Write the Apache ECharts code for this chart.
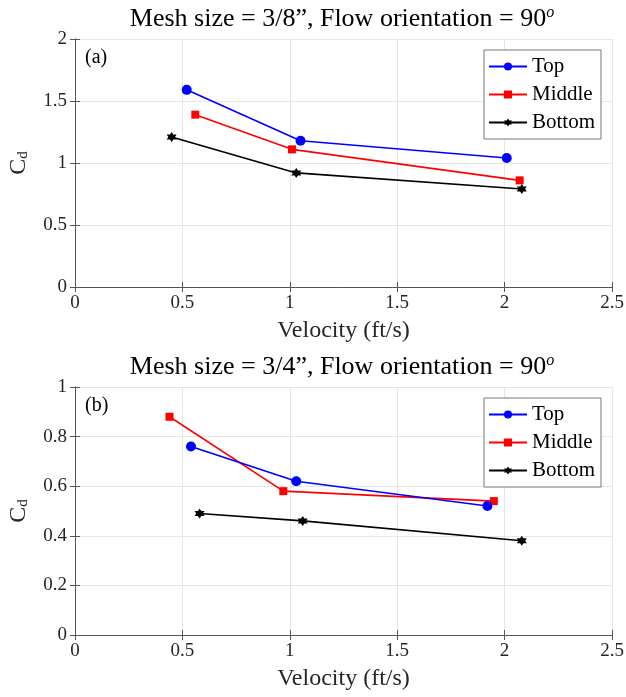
<!DOCTYPE html>
<html>
<head>
<meta charset="utf-8">
<script src="https://cdn.jsdelivr.net/npm/echarts@6/dist/echarts.min.js"></script>
<style>
  html, body { margin: 0; padding: 0; background: #fff; }
  #main { width: 626px; height: 697px; }
</style>
</head>
<body>
<div id="main"></div>
<script>
// panel (a): mesh 3/8"
var topA = [[0.52, 1.59], [1.05, 1.18], [2.01, 1.04]];
var midA = [[0.56, 1.39], [1.01, 1.11], [2.07, 0.86]];
var botA = [[0.45, 1.21], [1.03, 0.92], [2.08, 0.79]];
// panel (b): mesh 3/4"
var topB = [[0.54, 0.76], [1.03, 0.62], [1.92, 0.52]];
var midB = [[0.44, 0.88], [0.97, 0.58], [1.95, 0.54]];
var botB = [[0.58, 0.49], [1.06, 0.46], [2.08, 0.38]];

var titles = ["Mesh size = 3/8\u201D, Flow orientation = 90", "Mesh size = 3/4\u201D, Flow orientation = 90"];
var panelLabels = ["(a)", "(b)"];
var seriesNames = ["Top", "Middle", "Bottom"];
var colors = ["#0000ff", "#ff0000", "#000000"];
var yMax = [2, 1];
var yStep = [0.5, 0.2];

var FONT = "Liberation Serif";
var hexagram = "path://M0,-10 L2.9,-5 L8.66,-5 L5.8,0 L8.66,5 L2.9,5 L0,10 L-2.9,5 L-8.66,5 L-5.8,0 L-8.66,-5 L-2.9,-5 Z";
var symbols = ["circle", "rect", hexagram];
var symbolSizes = [10, 8, 10];

var chart = echarts.init(document.getElementById("main"));

var grids = [
  { left: 75, top: 39, width: 537, height: 248, outerBoundsMode: "none", containLabel: false },
  { left: 75, top: 387, width: 537, height: 248, outerBoundsMode: "none", containLabel: false }
];

var xAxes = [], yAxes = [], series = [], legends = [], graphics = [];
var data = [[topA, midA, botA], [topB, midB, botB]];

grids.forEach(function (g, i) {
  // bottom axis with labels
  xAxes.push({
    gridIndex: i, type: "value", min: 0, max: 2.5, interval: 0.5,
    name: "Velocity (ft/s)", nameLocation: "middle", nameGap: 32,
    nameTextStyle: { fontFamily: FONT, fontSize: 24, color: "#262626" },
    axisLine: { lineStyle: { color: "#555", width: 1 } },
    axisTick: { inside: true, length: 5, lineStyle: { color: "#555" } },
    axisLabel: { fontFamily: FONT, fontSize: 19, color: "#262626", margin: 7 },
    splitLine: { show: true, lineStyle: { color: "#e6e6e6", width: 1 } }
  });
  // top box edge
  xAxes.push({
    gridIndex: i, type: "value", min: 0, max: 2.5, interval: 0.5, position: "top",
    axisLine: { show: true, lineStyle: { color: "#555", width: 1 } },
    axisTick: { inside: true, length: 5, lineStyle: { color: "#555" } },
    axisLabel: { show: false }, splitLine: { show: false }
  });
  yAxes.push({
    gridIndex: i, type: "value", min: 0, max: yMax[i], interval: yStep[i],
    name: "C{s|d}", nameLocation: "middle", nameGap: 44, nameRotate: 90,
    nameTextStyle: { fontFamily: FONT, fontSize: 24, color: "#262626",
      rich: { s: { fontFamily: FONT, fontSize: 15, color: "#262626", verticalAlign: "bottom", padding: [10, 0, 0, 0] } } },
    axisLine: { show: true, lineStyle: { color: "#555", width: 1 } },
    axisTick: { inside: true, length: 5, lineStyle: { color: "#555" } },
    axisLabel: { fontFamily: FONT, fontSize: 19, color: "#262626", margin: 8 },
    splitLine: { show: true, lineStyle: { color: "#e6e6e6", width: 1 } }
  });
  yAxes.push({
    gridIndex: i, type: "value", min: 0, max: yMax[i], interval: yStep[i], position: "right",
    axisLine: { show: true, lineStyle: { color: "#555", width: 1 } },
    axisTick: { inside: true, length: 5, lineStyle: { color: "#555" } },
    axisLabel: { show: false }, splitLine: { show: false }
  });

  data[i].forEach(function (d, k) {
    series.push({
      name: seriesNames[k], type: "line", data: d,
      xAxisIndex: i * 2, yAxisIndex: i * 2,
      symbol: symbols[k], symbolSize: symbolSizes[k],
      lineStyle: { color: colors[k], width: 1.6 },
      itemStyle: { color: colors[k] },
      z: 3 - k
    });
  });

  legends.push({
    data: seriesNames.map(function (n, k) {
      return { name: n, itemStyle: { color: colors[k] } };
    }),
    orient: "vertical", right: 25, top: g.top + 11,
    itemWidth: 38, itemHeight: 10, itemGap: 7,
    padding: [6, 6, 6, 4],
    backgroundColor: "#fff", borderColor: "#777", borderWidth: 1, borderRadius: 0,
    textStyle: { fontFamily: FONT, fontSize: 21, lineHeight: 18, color: "#000" },
    selectedMode: false
  });

  graphics.push({
    type: "text", x: 342, y: g.top - 6,
    style: {
      text: titles[i] + "{o|o}",
      align: "center", verticalAlign: "bottom",
      rich: { o: { fontFamily: FONT, fontSize: 16, fontStyle: "italic", verticalAlign: "top", padding: [0, 0, 12, 0], fill: "#000" } },
      fontFamily: FONT, fontSize: 26, fill: "#000"
    }
  });
  graphics.push({
    type: "text", left: g.left + 10, top: g.top + 9,
    style: { text: panelLabels[i], fontFamily: FONT, fontSize: 20, fill: "#000" }
  });
});

chart.setOption({
  animation: false,
  grid: grids,
  xAxis: xAxes,
  yAxis: yAxes,
  legend: legends,
  series: series,
  graphic: graphics
});
</script>
</body>
</html>
